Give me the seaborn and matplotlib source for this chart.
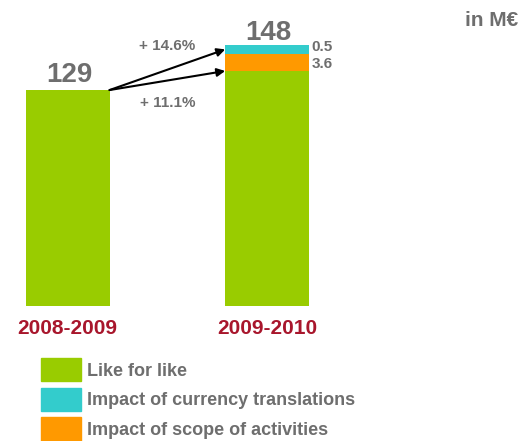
import numpy as np
import pandas as pd
import matplotlib
matplotlib.use('Agg')
import matplotlib.pyplot as plt
import matplotlib.patches as mpatches
import seaborn as sns

# Values (bar heights as drawn in the chart, schematic scale)
periods = ['2008-2009', '2009-2010']
like_for_like = [129, 140.4]
scope_impact = [0, 10.3]
currency_impact = [0, 5.2]

total_labels = ['129', '148']
scope_label = '3.6'
currency_label = '0.5'
growth_total = '+ 14.6%'
growth_lfl = '+ 11.1%'

legend_labels = ['Like for like', 'Impact of currency translations', 'Impact of scope of activities']

green = '#99CC00'
cyan = '#33CCCC'
orange = '#FF9900'
gray = '#6E6E6E'
red = '#A8162C'

sns.set_style('white')
plt.rcParams['font.family'] = ['Liberation Sans', 'DejaVu Sans']

df = pd.DataFrame({'period': periods,
                   'lfl': like_for_like,
                   'scope': scope_impact,
                   'currency': currency_impact})
df['lfl_scope'] = df['lfl'] + df['scope']
df['total'] = df['lfl_scope'] + df['currency']

fig = plt.figure(figsize=(5.26, 4.41), dpi=100)
ax = fig.add_axes([0, 135 / 441, 1, 306 / 441])

bar_w = 0.42
# stacked bars drawn top layer first
for col, c in [('total', cyan), ('lfl_scope', orange), ('lfl', green)]:
    sns.barplot(data=df, x='period', y=col, color=c, saturation=1, width=bar_w,
                linewidth=0, edgecolor='none', ax=ax)

ax.set_xlim(-0.339, 2.298)
ax.set_ylim(0, 182.8)
ax.set_xlabel('')
ax.set_ylabel('')
ax.set_yticks([])
sns.despine(ax=ax, left=True, bottom=True)
ax.tick_params(axis='x', length=0, pad=9)
for lab in ax.get_xticklabels():
    lab.set_color(red)
    lab.set_fontsize(15)
    lab.set_fontweight('bold')

# totals above bars
for i, (tot, lab, dy) in enumerate(zip(df['total'], total_labels, [6, 3.5])):
    ax.annotate(lab, (i, tot), xytext=(1, dy), textcoords='offset points',
                ha='center', va='baseline', fontsize=20, fontweight='bold', color=gray)

# segment labels on bar 2
right = 1 + bar_w / 2
ax.annotate(currency_label, (right, df['lfl_scope'][1] + df['currency'][1] / 2),
            xytext=(2, 2), textcoords='offset points', ha='left', va='center',
            fontsize=11, fontweight='bold', color=gray)
ax.annotate(scope_label, (right, df['lfl'][1] + df['scope'][1] / 2),
            xytext=(2, -1), textcoords='offset points', ha='left', va='center',
            fontsize=11, fontweight='bold', color=gray)

# growth arrows
start = (0 + bar_w / 2, df['lfl'][0])
end_total = (1 - bar_w / 2, df['lfl_scope'][1] + df['currency'][1] / 2)
end_lfl = (1 - bar_w / 2, df['lfl'][1])
for end in [end_total, end_lfl]:
    ax.annotate('', xy=end, xytext=start,
                arrowprops=dict(arrowstyle='-|>', color='black', lw=1.5,
                                mutation_scale=12, shrinkA=0, shrinkB=0))

mid_total = ((start[0] + end_total[0]) / 2, (start[1] + end_total[1]) / 2)
mid_lfl = ((start[0] + end_lfl[0]) / 2, (start[1] + end_lfl[1]) / 2)
ax.annotate(growth_total, mid_total, xytext=(0, 17), textcoords='offset points',
            ha='center', va='center', fontsize=11, fontweight='bold', color=gray)
ax.annotate(growth_lfl, mid_lfl, xytext=(0, -16), textcoords='offset points',
            ha='center', va='center', fontsize=11, fontweight='bold', color=gray)

fig.text(0.985, 1 - 21 / 441, 'in M€', ha='right', va='center',
         fontsize=15, fontweight='bold', color=gray)

handles = [mpatches.Patch(color=c) for c in [green, cyan, orange]]
leg = fig.legend(handles, legend_labels, loc='upper left',
                 bbox_to_anchor=(41 / 526, 1 - 358 / 441), frameon=False,
                 fontsize=13, handlelength=2.2, handleheight=1.6,
                 labelspacing=0.36, handletextpad=0.33, borderpad=0, borderaxespad=0)
for t in leg.get_texts():
    t.set_color(gray)
    t.set_fontweight('bold')

fig.savefig('out.png', dpi=100)
